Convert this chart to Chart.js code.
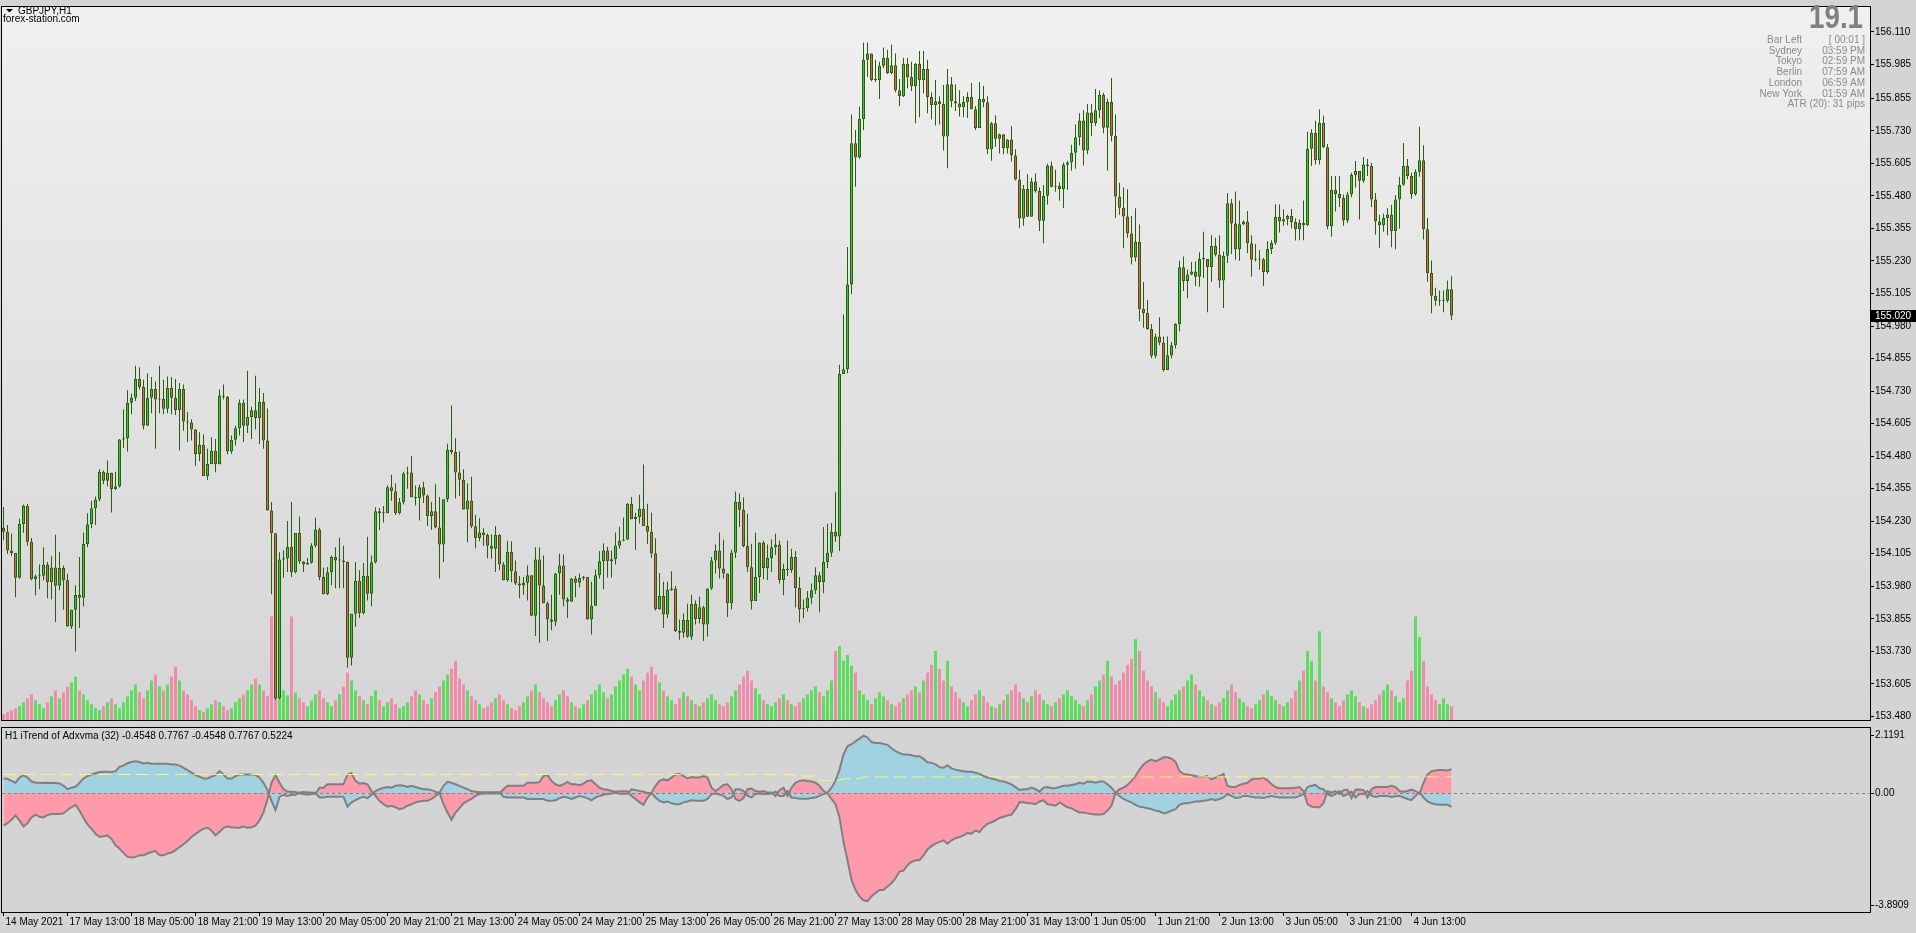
<!DOCTYPE html>
<html><head><meta charset="utf-8">
<script src="https://cdn.jsdelivr.net/npm/chart.js@4.4.0/dist/chart.umd.min.js"></script>
<style>
html,body{margin:0;padding:0;background:#D4D4D4;overflow:hidden;width:1916px;height:933px}
#c1{position:absolute;left:0;top:0}
#c2{position:absolute;left:0;top:727px}
</style></head><body>
<canvas id="c1" width="1916" height="727"></canvas>
<canvas id="c2" width="1916" height="206"></canvas>
<script>
// ---------- DATA (GBPJPY H1) ----------
const opens = [
154.205,154.189,154.117,154.108,154.013,154.219,154.289,154.151,154.007,154.018,
154.020,154.064,153.996,154.052,153.982,154.050,154.003,153.825,153.890,153.946,
153.936,154.142,154.218,154.280,154.313,154.420,154.385,154.416,154.354,154.363,
154.544,154.549,154.685,154.704,154.776,154.746,154.597,154.704,154.738,154.698,
154.700,154.662,154.742,154.704,154.657,154.738,154.613,154.609,154.582,154.488,
154.524,154.404,154.450,154.501,154.449,154.713,154.708,154.498,154.543,154.587,
154.685,154.597,154.630,154.656,154.627,154.689,154.540,154.271,154.184,153.550,
154.083,154.088,154.132,154.034,154.185,154.075,154.064,154.070,154.136,154.198,
154.016,153.949,154.034,154.092,154.079,154.079,154.073,153.705,153.874,154.001,
153.877,154.020,153.951,154.072,154.268,154.261,154.261,154.360,154.345,154.261,
154.303,154.413,154.417,154.322,154.319,154.360,154.329,154.250,154.268,154.206,
154.140,154.314,154.505,154.496,154.417,154.389,154.275,154.310,154.211,154.165,
154.187,154.177,154.136,154.124,154.178,154.064,154.003,154.113,154.038,153.991,
153.983,153.993,154.022,153.867,154.083,153.983,153.915,153.852,153.844,154.029,
154.060,153.930,153.920,154.010,153.993,154.012,154.016,153.852,153.905,154.022,
154.076,154.117,154.076,154.084,154.136,154.155,154.160,154.297,154.237,154.246,
154.278,154.212,154.189,154.107,153.892,153.943,153.871,153.966,153.971,153.808,
153.801,153.850,153.786,153.913,153.854,153.899,153.833,153.971,154.079,154.117,
154.048,154.029,153.915,154.109,154.305,154.274,154.135,154.053,153.923,154.016,
154.148,154.050,154.089,154.130,154.140,154.004,154.046,154.042,154.092,153.973,
153.892,153.895,153.936,153.965,154.022,153.996,154.073,154.109,154.189,154.171,
154.796,154.814,155.140,155.682,155.628,155.776,156.003,156.027,155.925,155.925,
155.980,156.011,155.952,155.982,155.886,155.863,155.988,155.937,155.901,155.988,
155.925,155.968,155.860,155.829,155.844,155.833,155.708,155.909,155.844,155.835,
155.821,155.841,155.860,155.813,155.741,155.852,155.840,155.659,155.759,155.700,
155.717,155.663,155.697,155.635,155.543,155.393,155.507,155.400,155.535,155.499,
155.385,155.481,155.597,155.515,155.519,155.507,155.600,155.608,155.646,155.705,
155.770,155.655,155.801,155.759,155.809,155.869,155.742,155.841,155.711,155.478,
155.435,155.401,155.336,155.243,155.304,155.045,155.030,154.969,154.866,154.940,
154.916,154.811,154.868,154.906,154.988,155.206,155.153,155.178,155.190,155.169,
155.238,155.238,155.207,155.288,155.254,155.155,155.250,155.452,155.374,155.275,
155.371,155.382,155.298,155.235,155.236,155.237,155.188,155.276,155.300,155.399,
155.382,155.390,155.403,155.380,155.352,155.376,155.367,155.661,155.723,155.617,
155.761,155.667,155.363,155.504,155.487,155.472,155.386,155.485,155.560,155.576,
155.538,155.601,155.595,155.466,155.382,155.367,155.395,155.409,155.345,155.466,
155.523,155.595,155.557,155.487,155.573,155.617,155.352,155.184,155.096,155.077,
155.077,155.077,155.121];
const highs = [
154.285,154.215,154.183,154.108,154.239,154.294,154.296,154.165,154.025,154.064,
154.130,154.073,154.095,154.178,154.111,154.060,154.028,153.890,153.984,154.092,
154.186,154.261,154.309,154.325,154.430,154.425,154.463,154.416,154.420,154.546,
154.660,154.733,154.721,154.827,154.822,154.774,154.799,154.784,154.767,154.827,
154.774,154.786,154.784,154.776,154.761,154.755,154.650,154.622,154.584,154.572,
154.563,154.508,154.553,154.546,154.736,154.755,154.711,154.559,154.597,154.698,
154.698,154.808,154.670,154.789,154.742,154.723,154.663,154.304,154.185,154.111,
154.117,154.231,154.304,154.185,154.248,154.077,154.089,154.145,154.243,154.205,
154.051,154.054,154.098,154.130,154.167,154.136,154.075,153.874,154.073,154.041,
154.069,154.170,154.098,154.284,154.281,154.288,154.367,154.408,154.375,154.319,
154.420,154.439,154.481,154.367,154.370,154.382,154.332,154.304,154.372,154.323,
154.314,154.528,154.675,154.549,154.499,154.430,154.376,154.401,154.254,154.241,
154.203,154.183,154.180,154.212,154.180,154.073,154.155,154.153,154.079,154.019,
154.016,154.060,154.022,154.130,154.130,154.098,153.921,153.947,154.031,154.105,
154.102,153.938,154.012,154.019,154.029,154.019,154.008,153.997,154.044,154.115,
154.145,154.132,154.117,154.187,154.209,154.244,154.300,154.323,154.262,154.332,
154.448,154.297,154.262,154.164,154.031,153.997,153.997,154.038,153.981,153.852,
153.875,153.913,153.947,153.925,153.940,153.905,153.971,154.092,154.140,154.187,
154.159,154.029,154.120,154.344,154.336,154.321,154.259,154.143,154.186,154.148,
154.155,154.140,154.161,154.182,154.155,154.066,154.155,154.124,154.115,154.016,
153.929,153.962,153.991,154.053,154.035,154.208,154.220,154.223,154.341,154.831,
155.024,155.284,155.793,155.733,155.823,156.070,156.070,156.027,156.003,155.996,
156.050,156.042,156.061,156.027,155.929,156.011,156.011,155.996,155.991,156.037,
156.037,156.003,155.878,155.925,155.863,155.906,155.968,155.937,155.909,155.886,
155.863,155.878,155.914,155.826,155.918,155.903,155.863,155.764,155.790,155.720,
155.717,155.699,155.748,155.659,155.581,155.522,155.563,155.550,155.566,155.512,
155.522,155.604,155.612,155.581,155.532,155.608,155.615,155.677,155.754,155.798,
155.809,155.833,155.833,155.891,155.885,155.876,155.853,155.933,155.793,155.531,
155.512,155.506,155.403,155.433,155.370,155.149,155.080,154.988,154.950,155.014,
154.940,154.940,154.919,154.991,155.232,155.247,155.197,155.226,155.228,155.264,
155.342,155.238,155.329,155.319,155.329,155.266,155.490,155.468,155.497,155.462,
155.386,155.422,155.329,155.295,155.272,155.241,155.307,155.310,155.448,155.447,
155.428,155.409,155.430,155.393,155.389,155.462,155.727,155.736,155.769,155.812,
155.788,155.680,155.557,155.557,155.557,155.485,155.496,155.569,155.614,155.557,
155.630,155.622,155.607,155.491,155.408,155.411,155.433,155.446,155.483,155.554,
155.683,155.622,155.569,155.582,155.746,155.675,155.395,155.232,155.127,155.117,
155.117,155.155,155.171];
const lows = [
154.157,154.104,154.097,153.938,154.010,154.186,154.136,154.003,153.945,153.968,
154.003,153.934,153.930,153.843,153.965,153.890,153.825,153.816,153.729,153.820,
153.902,154.130,154.203,154.215,154.306,154.372,154.363,154.263,154.351,154.359,
154.511,154.498,154.641,154.692,154.736,154.582,154.597,154.645,154.508,154.645,
154.641,154.645,154.641,154.638,154.502,154.578,154.534,154.540,154.443,154.460,
154.404,154.388,154.449,154.418,154.449,154.698,154.487,154.489,154.521,154.559,
154.534,154.569,154.546,154.582,154.527,154.508,154.271,153.949,153.543,153.547,
154.013,154.035,154.016,154.029,154.066,154.035,154.064,154.066,154.130,154.003,
153.949,153.946,153.984,153.972,153.972,153.972,153.667,153.675,153.824,153.858,
153.871,153.925,153.903,154.067,154.196,154.225,154.261,154.309,154.254,154.256,
154.294,154.355,154.322,154.290,154.233,154.300,154.212,154.196,154.203,154.010,
154.073,154.304,154.486,154.317,154.326,154.275,154.149,154.203,154.126,154.153,
154.136,154.088,154.086,154.035,154.041,154.003,153.997,153.995,153.985,153.934,
153.947,153.925,153.865,153.789,153.763,153.915,153.770,153.811,153.827,153.947,
153.903,153.858,153.921,153.938,153.976,154.003,153.852,153.795,153.909,154.010,
153.968,154.014,154.014,154.064,154.124,154.153,154.158,154.237,154.120,154.221,
154.212,154.142,154.089,153.887,153.890,153.820,153.858,153.963,153.804,153.774,
153.782,153.782,153.774,153.833,153.837,153.770,153.786,153.966,154.029,154.010,
154.010,153.862,153.892,154.089,154.208,154.130,154.035,153.891,153.923,153.954,
154.007,154.004,154.035,154.100,153.991,153.945,154.019,154.032,153.899,153.841,
153.857,153.883,153.911,153.950,153.880,153.953,154.050,154.093,154.151,154.115,
154.799,154.799,155.102,155.515,155.623,155.733,155.937,155.921,155.918,155.852,
155.971,155.949,155.949,155.878,155.826,155.860,155.894,155.883,155.759,155.782,
155.875,155.798,155.775,155.751,155.754,155.655,155.586,155.821,155.806,155.785,
155.782,155.779,155.813,155.733,155.741,155.821,155.640,155.615,155.669,155.643,
155.640,155.643,155.612,155.539,155.357,155.365,155.399,155.411,155.492,155.345,
155.298,155.447,155.512,155.496,155.461,155.434,155.504,155.577,155.584,155.674,
155.597,155.640,155.710,155.749,155.778,155.721,155.578,155.689,155.396,155.408,
155.279,155.319,155.216,155.228,154.998,154.973,154.966,154.856,154.856,154.906,
154.805,154.811,154.856,154.894,154.960,155.115,155.087,155.175,155.134,155.131,
155.165,155.033,155.150,155.247,155.127,155.049,155.222,155.257,155.235,155.231,
155.367,155.260,155.169,155.228,155.197,155.134,155.180,155.257,155.291,155.339,
155.365,155.367,155.355,155.309,155.310,155.310,155.365,155.595,155.601,155.601,
155.664,155.352,155.323,155.420,155.437,155.365,155.376,155.475,155.512,155.389,
155.531,155.557,155.437,155.332,155.281,155.342,155.329,155.283,155.275,155.355,
155.519,155.544,155.468,155.481,155.554,155.313,155.150,155.029,155.058,155.058,
155.033,155.070,155.003];
const closes = [
154.189,154.117,154.108,154.013,154.219,154.289,154.151,154.007,154.018,154.020,
154.064,153.996,154.052,153.982,154.050,154.003,153.825,153.890,153.946,153.936,
154.142,154.218,154.280,154.313,154.420,154.385,154.416,154.354,154.363,154.544,
154.549,154.685,154.704,154.776,154.746,154.597,154.704,154.738,154.698,154.700,
154.662,154.742,154.704,154.657,154.738,154.613,154.609,154.582,154.488,154.524,
154.404,154.450,154.501,154.449,154.713,154.708,154.498,154.543,154.587,154.685,
154.597,154.630,154.656,154.627,154.689,154.540,154.271,154.184,153.550,154.083,
154.088,154.132,154.034,154.185,154.075,154.064,154.070,154.136,154.198,154.016,
153.949,154.034,154.092,154.079,154.079,154.073,153.705,153.874,154.001,153.877,
154.020,153.951,154.072,154.268,154.261,154.261,154.360,154.345,154.261,154.303,
154.413,154.417,154.322,154.319,154.360,154.329,154.250,154.268,154.206,154.140,
154.314,154.505,154.496,154.417,154.389,154.275,154.310,154.211,154.165,154.187,
154.177,154.136,154.124,154.178,154.064,154.003,154.113,154.038,153.991,153.983,
153.993,154.022,153.867,154.083,153.983,153.915,153.852,153.844,154.029,154.060,
153.930,153.920,154.010,153.993,154.012,154.016,153.852,153.905,154.022,154.076,
154.117,154.076,154.084,154.136,154.155,154.160,154.297,154.237,154.246,154.278,
154.212,154.189,154.107,153.892,153.943,153.871,153.966,153.971,153.808,153.801,
153.850,153.786,153.913,153.854,153.899,153.833,153.971,154.079,154.117,154.048,
154.029,153.915,154.109,154.305,154.274,154.135,154.053,153.923,154.016,154.148,
154.050,154.089,154.130,154.140,154.004,154.046,154.042,154.092,153.973,153.892,
153.895,153.936,153.965,154.022,153.996,154.073,154.109,154.189,154.171,154.796,
154.814,155.140,155.682,155.628,155.776,156.003,156.027,155.925,155.925,155.980,
156.011,155.952,155.982,155.886,155.863,155.988,155.937,155.901,155.988,155.925,
155.968,155.860,155.829,155.844,155.833,155.708,155.909,155.844,155.835,155.821,
155.841,155.860,155.813,155.741,155.852,155.840,155.659,155.759,155.700,155.717,
155.663,155.697,155.635,155.543,155.393,155.507,155.400,155.535,155.499,155.385,
155.481,155.597,155.515,155.519,155.507,155.600,155.608,155.646,155.705,155.770,
155.655,155.801,155.759,155.809,155.869,155.742,155.841,155.711,155.478,155.435,
155.401,155.336,155.243,155.304,155.045,155.030,154.969,154.866,154.940,154.916,
154.811,154.868,154.906,154.988,155.206,155.153,155.178,155.190,155.169,155.238,
155.238,155.207,155.288,155.254,155.155,155.250,155.452,155.374,155.275,155.371,
155.382,155.298,155.235,155.236,155.237,155.188,155.276,155.300,155.399,155.382,
155.390,155.403,155.380,155.352,155.376,155.367,155.661,155.723,155.617,155.761,
155.667,155.363,155.504,155.487,155.472,155.386,155.485,155.560,155.576,155.538,
155.601,155.595,155.466,155.382,155.367,155.395,155.409,155.345,155.466,155.523,
155.595,155.557,155.487,155.573,155.617,155.352,155.184,155.096,155.077,155.077,
155.077,155.121,155.020];
const volumes = [
6,8,10,12,14,18,22,26,20,16, 12,18,24,30,22,28,34,38,44,30, 26,20,16,12,10,14,18,22,16,12,
18,24,30,36,28,22,30,40,46,34, 30,36,44,54,40,30,26,20,14,10, 8,12,16,20,18,14,10,12,18,22,
26,30,36,42,36,30,24,105,60,45, 30,25,105,28,22,18,14,20,26,30, 22,18,14,20,26,34,48,40,30,24,
20,16,24,30,20,14,18,22,16,12, 14,18,24,30,26,20,16,22,28,34, 40,46,52,60,42,36,30,24,20,16,
12,14,18,22,26,20,16,12,10,14, 18,24,30,36,28,22,18,14,20,26, 30,24,18,14,12,16,20,26,30,36,
28,22,26,34,40,46,52,44,36,30, 40,48,54,46,38,30,24,20,16,22, 28,24,20,16,14,18,22,26,20,16,
14,18,24,30,36,44,50,40,32,26, 20,16,14,18,22,26,20,16,14,18, 22,26,30,34,28,24,30,40,70,75,
60,66,55,48,30,26,20,16,22,28, 24,20,16,14,18,22,26,30,34,28, 40,48,56,70,52,40,60,34,28,22,
18,14,20,26,30,24,18,14,12,16, 20,26,30,36,28,22,18,24,30,26, 20,16,14,18,22,26,30,24,20,16,
14,20,26,34,40,46,60,44,36,40, 48,56,62,82,70,50,40,34,28,22, 18,14,20,26,30,34,40,46,36,30,
24,20,16,14,18,22,30,36,28,22, 18,14,12,16,20,26,30,24,20,16, 14,18,22,30,40,50,70,60,40,90,
34,28,22,18,14,20,26,30,24,18, 14,12,16,20,26,30,36,30,24,18, 22,40,50,105,84,60,34,26,20,16,
22,16,14];
// iTrend of Adxvma (32): buffer shaded blue and buffer shaded pink
const itrendBlue = [
0.47,0.46,0.39,0.33,0.50,0.58,0.50,0.37,0.33,0.33, 0.32,0.33,0.32,0.32,0.31,0.23,0.12,0.17,0.20,0.33,
0.47,0.55,0.60,0.64,0.68,0.69,0.69,0.68,0.71,0.85, 0.89,0.97,1.01,1.03,1.01,0.96,0.98,0.95,0.95,0.96,
0.95,0.95,0.93,0.93,0.89,0.82,0.74,0.66,0.58,0.53, 0.47,0.47,0.53,0.58,0.71,0.60,0.47,0.47,0.55,0.60,
0.60,0.60,0.60,0.58,0.50,0.33,0.09,-0.26,-0.56,-0.13, -0.06,-0.10,-0.06,-0.06,0.01,0.03,0.01,0.01,0.00,-0.15,
-0.15,-0.13,-0.13,-0.13,-0.13,-0.13,-0.45,-0.31,-0.24,-0.17, -0.13,-0.17,-0.06,0.06,0.12,0.17,0.19,0.17,0.23,0.25,
0.23,0.19,0.23,0.19,0.15,0.12,0.12,0.09,0.04,0.00, 0.23,0.36,0.33,0.28,0.23,0.17,0.12,0.06,0.04,0.02,
0.02,0.02,0.02,0.02,0.02,-0.13,-0.15,-0.15,-0.15,-0.15, -0.15,-0.20,-0.20,-0.20,-0.20,-0.20,-0.26,-0.26,-0.24,-0.17,
-0.13,-0.15,-0.20,-0.15,-0.10,-0.13,-0.17,-0.24,-0.15,-0.10, -0.06,-0.04,-0.02,0.00,-0.03,-0.03,-0.03,0.12,0.09,0.06,
0.04,0.00,0.00,-0.15,-0.26,-0.31,-0.28,-0.34,-0.37,-0.37, -0.31,-0.28,-0.24,-0.26,-0.26,-0.26,-0.20,-0.04,-0.02,-0.05,
-0.10,-0.20,-0.15,0.12,0.12,0.06,-0.10,-0.15,-0.04,-0.02, -0.04,-0.04,-0.02,0.04,-0.10,-0.10,0.06,-0.15,-0.17,-0.19,
-0.19,-0.19,-0.17,-0.15,-0.10,-0.04,0.01,0.17,0.39,0.76, 1.25,1.52,1.59,1.68,1.77,1.87,1.81,1.66,1.63,1.63,
1.60,1.57,1.46,1.36,1.30,1.25,1.25,1.23,1.20,1.20, 1.11,1.00,0.98,0.93,0.84,0.82,0.90,0.80,0.76,0.73,
0.71,0.69,0.69,0.66,0.62,0.55,0.50,0.47,0.44,0.39, 0.37,0.33,0.28,0.19,0.09,0.12,0.12,0.17,0.12,0.04,
0.17,0.19,0.15,0.15,0.19,0.23,0.23,0.26,0.28,0.33, 0.30,0.37,0.36,0.33,0.37,0.37,0.28,0.17,0.00,-0.10,
-0.20,-0.26,-0.31,-0.39,-0.45,-0.47,-0.50,-0.53,-0.58,-0.60, -0.67,-0.64,-0.58,-0.53,-0.39,-0.34,-0.34,-0.31,-0.28,-0.28,
-0.26,-0.24,-0.20,-0.24,-0.20,-0.15,-0.04,-0.10,-0.17,-0.15, -0.10,-0.10,-0.13,-0.15,-0.15,-0.17,-0.13,-0.10,-0.13,-0.15,
-0.15,-0.15,-0.15,-0.15,-0.10,-0.04,0.19,0.23,0.26,0.15, 0.12,-0.04,-0.10,-0.04,0.06,-0.10,-0.04,0.04,-0.15,-0.04,
-0.04,0.06,-0.10,-0.13,-0.10,-0.10,-0.10,-0.13,-0.11,-0.10, -0.15,-0.20,-0.24,-0.10,0.02,-0.15,-0.28,-0.34,-0.37,-0.39,
-0.39,-0.39,-0.4548];
const itrendPink = [
-1.07,-0.99,-0.88,-0.74,-0.90,-1.10,-0.99,-0.80,-0.71,-0.78, -0.80,-0.72,-0.69,-0.69,-0.69,-0.67,-0.56,-0.47,-0.39,-0.58,
-0.82,-1.03,-1.17,-1.34,-1.44,-1.42,-1.39,-1.50,-1.71,-1.82, -1.96,-2.09,-2.11,-2.09,-2.04,-2.04,-1.98,-1.93,-1.90,-2.04,
-2.04,-1.98,-1.95,-1.87,-1.77,-1.68,-1.57,-1.44,-1.34,-1.25, -1.17,-1.14,-1.23,-1.39,-1.28,-1.14,-1.10,-1.12,-1.14,-1.14,
-1.10,-1.14,-1.12,-1.07,-0.90,-0.64,-0.20,0.33,0.58,0.33, 0.12,0.04,0.04,0.03,-0.02,-0.04,-0.06,-0.04,-0.02,0.17,
0.17,0.28,0.28,0.28,0.28,0.28,0.60,0.64,0.39,0.30, 0.32,0.28,0.06,-0.10,-0.26,-0.37,-0.45,-0.42,-0.47,-0.53,
-0.50,-0.42,-0.37,-0.31,-0.28,-0.26,-0.26,-0.20,-0.10,0.00, -0.37,-0.64,-0.88,-0.64,-0.50,-0.34,-0.26,-0.20,-0.10,-0.04,
-0.02,-0.02,-0.02,-0.02,-0.02,0.12,0.23,0.23,0.23,0.23, 0.23,0.33,0.33,0.33,0.35,0.55,0.58,0.39,0.28,0.23,
0.28,0.36,0.28,0.28,0.25,0.30,0.39,0.41,0.28,0.17, 0.12,0.10,0.06,0.04,0.05,0.05,0.05,-0.10,-0.20,-0.31,
-0.39,-0.15,0.00,0.23,0.39,0.44,0.41,0.50,0.60,0.62, 0.55,0.47,0.52,0.50,0.50,0.55,0.50,0.17,0.06,0.15,
0.26,0.28,0.12,-0.20,-0.26,-0.17,0.12,0.14,0.06,0.04, 0.06,0.01,0.01,-0.10,0.09,0.17,-0.10,0.17,0.33,0.39,
0.41,0.39,0.37,0.33,0.23,0.06,-0.02,-0.20,-0.37,-0.80, -1.60,-2.20,-2.84,-3.17,-3.38,-3.51,-3.54,-3.38,-3.27,-3.17,
-3.17,-3.06,-2.95,-2.79,-2.57,-2.54,-2.36,-2.25,-2.20,-2.20, -2.04,-1.85,-1.74,-1.66,-1.60,-1.55,-1.66,-1.55,-1.48,-1.44,
-1.39,-1.31,-1.33,-1.23,-1.28,-1.12,-1.01,-0.96,-0.90,-0.82, -0.78,-0.74,-0.71,-0.53,-0.31,-0.31,-0.34,-0.34,-0.37,-0.28,
-0.24,-0.37,-0.39,-0.42,-0.31,-0.39,-0.47,-0.50,-0.58,-0.64, -0.64,-0.67,-0.69,-0.71,-0.71,-0.69,-0.58,-0.42,0.00,0.12,
0.17,0.26,0.39,0.55,0.76,0.93,1.03,1.09,1.03,1.09, 1.16,1.16,1.12,1.01,0.71,0.62,0.60,0.58,0.55,0.52,
0.52,0.55,0.44,0.50,0.55,0.62,0.23,0.19,0.19,0.26, 0.30,0.33,0.44,0.47,0.47,0.50,0.41,0.28,0.19,0.15,
0.15,0.15,0.15,0.17,0.19,0.06,-0.37,-0.45,-0.47,-0.47, -0.34,0.06,0.01,0.06,-0.04,0.09,0.11,-0.17,0.10,0.11,
0.09,-0.15,0.12,0.19,0.19,0.19,0.19,0.23,0.19,0.06, 0.04,0.06,0.11,0.06,-0.03,0.33,0.60,0.71,0.73,0.75,
0.75,0.73,0.7767];
// signal level (yellow dashed): [number of bars, value]
const levelRuns = [[198,0.60],[6,0.55],[6,0.41],[5,0.46],[148,0.5224]];
const priceTicks = [156.110,155.985,155.855,155.730,155.605,155.480,155.355,155.230,155.105,154.980,154.855,
  154.730,154.605,154.480,154.355,154.230,154.105,153.980,153.855,153.730,153.605,153.480];
const timeLabels = ["14 May 2021","17 May 13:00","18 May 05:00","18 May 21:00","19 May 13:00","20 May 05:00",
  "20 May 21:00","21 May 13:00","24 May 05:00","24 May 21:00","25 May 13:00","26 May 05:00","26 May 21:00",
  "27 May 13:00","28 May 05:00","28 May 21:00","31 May 13:00","1 Jun 05:00","1 Jun 21:00","2 Jun 13:00",
  "3 Jun 05:00","3 Jun 21:00","4 Jun 13:00"];
const timeTickBars = [0,16,32,48,64,80,96,112,128,144,160,176,192,208,224,240,256,272,288,304,320,336,352];
const indTickLabels = ["2.1191","0.00","-3.8909"];
const infoRows = [["Bar Left","[ 00:01 ]"],["Sydney","03:59 PM"],["Tokyo","02:59 PM"],["Berlin","07:59 AM"],
  ["London","06:59 AM"],["New York","01:59 AM"]];

// ---------- RENDER ----------
const FONT = '"Liberation Sans", Arial, sans-serif';
const N = closes.length;
const idx = closes.map((c, i) => i);
const up = i => closes[i] >= opens[i];
const X_MIN = -0.375, X_MAX = 466.625;
const C_UP = '#33CC33', C_DN = '#E5604A', C_EDGE = '#2A5C12';
const V_UP = '#5EDC5E', V_DN = '#F08CAA';
const level = [];
levelRuns.forEach(([n, v]) => { for (let k = 0; k < n; k++) level.push(v); });

const mainPlugin = {
  id: 'mainDeco',
  beforeDraw(chart) {
    const {ctx, chartArea: a} = chart;
    ctx.save();
    ctx.fillStyle = '#D4D4D4';
    ctx.fillRect(0, 0, chart.width, chart.height);
    const g = ctx.createLinearGradient(0, a.top, 0, a.bottom);
    g.addColorStop(0, '#F0F0F0');
    g.addColorStop(1, '#D5D5D5');
    ctx.fillStyle = g;
    ctx.fillRect(a.left, a.top, a.right - a.left, a.bottom - a.top);
    ctx.restore();
  },
  afterDraw(chart) {
    const {ctx, chartArea: a} = chart;
    ctx.save();
    ctx.strokeStyle = '#000'; ctx.lineWidth = 1;
    ctx.strokeRect(a.left - 0.5, a.top - 0.5, a.right - a.left + 1, a.bottom - a.top + 1);
    // title
    ctx.fillStyle = '#000';
    ctx.beginPath(); ctx.moveTo(6, 9); ctx.lineTo(13, 9); ctx.lineTo(9.5, 12.5); ctx.closePath(); ctx.fill();
    ctx.font = '10px ' + FONT; ctx.textBaseline = 'alphabetic'; ctx.textAlign = 'left';
    ctx.fillText('GBPJPY,H1', 18, 14);
    ctx.fillText('forex-station.com', 3, 22);
    // info panel
    ctx.fillStyle = '#808080';
    ctx.save();
    ctx.translate(1863, 28); ctx.scale(0.84, 1);
    ctx.font = 'bold 33px ' + FONT; ctx.textAlign = 'right';
    ctx.fillText('19.1', 0, 0);
    ctx.restore();
    ctx.font = '10px ' + FONT; ctx.fillStyle = '#8A8A8A'; ctx.textAlign = 'right';
    infoRows.forEach((r, k) => {
      const y = 43 + k * 10.7;
      ctx.fillText(r[0], 1802, y);
      ctx.fillText(r[1], 1865, y);
    });
    ctx.fillText('ATR (20): 31 pips', 1865, 43 + 6 * 10.7);
    // current price label
    const py = Math.round(chart.scales.y.getPixelForValue(closes[N - 1]));
    ctx.fillStyle = '#000';
    ctx.fillRect(a.right + 1, py - 6, 45, 12);
    ctx.fillStyle = '#FFF'; ctx.textAlign = 'left'; ctx.textBaseline = 'middle';
    ctx.fillText(closes[N - 1].toFixed(3), a.right + 5, py);
    ctx.restore();
  }
};

new Chart(document.getElementById('c1'), {
  type: 'bar',
  data: {
    datasets: [
      { label: 'Volume', yAxisID: 'yVol', grouped: false, barThickness: 3, inflateAmount: 0,
        data: idx.map(i => ({x: i, y: volumes[i]})),
        backgroundColor: idx.map(i => up(i) ? V_UP : V_DN), order: 3 },
      { label: 'Wick', yAxisID: 'y', grouped: false, barThickness: 1, inflateAmount: 0, minBarLength: 1,
        data: idx.map(i => ({x: i, y: [Math.min(lows[i], opens[i], closes[i]), Math.max(highs[i], opens[i], closes[i])]})),
        backgroundColor: C_EDGE, order: 2 },
      { label: 'Body', yAxisID: 'y', grouped: false, barThickness: 3, inflateAmount: 0, minBarLength: 1,
        data: idx.map(i => ({x: i, y: [opens[i], closes[i]]})),
        backgroundColor: idx.map(i => up(i) ? C_UP : C_DN),
        borderColor: C_EDGE, borderWidth: 1, borderSkipped: false, order: 1 }
    ]
  },
  options: {
    responsive: false, animation: false, devicePixelRatio: 1,
    layout: { padding: { left: 2, top: 2, right: 0, bottom: 2 } },
    plugins: { legend: { display: false }, tooltip: { enabled: false } },
    scales: {
      x: { type: 'linear', min: X_MIN, max: X_MAX, display: false, offset: false },
      y: { position: 'right', min: 153.466, max: 156.206,
           afterBuildTicks: s => { s.ticks = priceTicks.map(v => ({value: v})); },
           afterFit: s => { s.width = 46; },
           ticks: { autoSkip: false, font: { family: FONT, size: 10 }, color: '#000', padding: 1,
                    callback: v => Number(v).toFixed(3) },
           grid: { drawOnChartArea: false, drawTicks: true, tickLength: 4, color: '#000' },
           border: { display: false } },
      yVol: { display: false, min: 0, max: 723 }
    }
  },
  plugins: [mainPlugin]
});

const indPlugin = {
  id: 'indDeco',
  beforeDraw(chart) {
    const {ctx} = chart;
    ctx.save(); ctx.fillStyle = '#D4D4D4'; ctx.fillRect(0, 0, chart.width, chart.height); ctx.restore();
  },
  afterDatasetsDraw(chart) {
    const {ctx, chartArea: a} = chart;
    const y0 = Math.round(chart.scales.y.getPixelForValue(0)) + 0.5;
    ctx.save();
    ctx.strokeStyle = '#808080'; ctx.lineWidth = 1; ctx.setLineDash([3, 3]);
    ctx.beginPath(); ctx.moveTo(a.left, y0); ctx.lineTo(a.right, y0); ctx.stroke();
    ctx.restore();
  },
  afterDraw(chart) {
    const {ctx, chartArea: a} = chart;
    ctx.save();
    ctx.strokeStyle = '#000'; ctx.lineWidth = 1;
    ctx.strokeRect(a.left - 0.5, a.top - 0.5, a.right - a.left + 1, a.bottom - a.top + 1);
    ctx.fillStyle = '#000'; ctx.font = '10px ' + FONT; ctx.textBaseline = 'middle'; ctx.textAlign = 'left';
    ctx.fillText('H1 iTrend of Adxvma (32) -0.4548 0.7767 -0.4548 0.7767 0.5224', 5, 9);
    const ys = [a.top + 7, Math.round(chart.scales.y.getPixelForValue(0)), a.bottom - 7];
    ys.forEach((y, k) => {
      ctx.beginPath(); ctx.moveTo(a.right, y + 0.5); ctx.lineTo(a.right + 4, y + 0.5); ctx.stroke();
      ctx.fillText(indTickLabels[k], a.right + 5, y + 0.5);
    });
    ctx.restore();
  }
};

new Chart(document.getElementById('c2'), {
  type: 'line',
  data: {
    datasets: [
      { label: 'Blue', data: idx.map(i => ({x: i, y: itrendBlue[i]})), borderColor: '#808080', borderWidth: 2,
        backgroundColor: '#A0D2E2', fill: 'origin', pointRadius: 0, tension: 0, order: 2 },
      { label: 'Pink', data: idx.map(i => ({x: i, y: itrendPink[i]})), borderColor: '#808080', borderWidth: 2,
        backgroundColor: '#FF9AAA', fill: 'origin', pointRadius: 0, tension: 0, order: 2 },
      { label: 'Level', data: idx.map(i => ({x: i, y: level[i]})), borderColor: '#FFFF55', borderWidth: 1,
        borderDash: [13, 6], fill: false, pointRadius: 0, tension: 0, order: 1 }
    ]
  },
  options: {
    responsive: false, animation: false, devicePixelRatio: 1,
    layout: { padding: { left: 2, top: 1, right: 0, bottom: 0 } },
    plugins: { legend: { display: false }, tooltip: { enabled: false }, filler: { drawTime: 'beforeDatasetsDraw' } },
    scales: {
      x: { type: 'linear', min: X_MIN, max: X_MAX, position: 'bottom', offset: false,
           afterBuildTicks: s => { s.ticks = timeTickBars.map(v => ({value: v})); },
           afterFit: s => { s.height = 21; },
           ticks: { autoSkip: false, maxRotation: 0, align: 'start', labelOffset: 2, padding: 0,
                    font: { family: FONT, size: 10 }, color: '#000', callback: (v, i) => timeLabels[i] },
           grid: { drawOnChartArea: false, drawTicks: true, tickLength: 4, color: '#000' },
           border: { display: false } },
      y: { position: 'right', min: -3.8909, max: 2.1191, afterFit: s => { s.width = 46; },
           ticks: { display: false }, grid: { display: false }, border: { display: false } }
    }
  },
  plugins: [indPlugin]
});
</script>
</body></html>
